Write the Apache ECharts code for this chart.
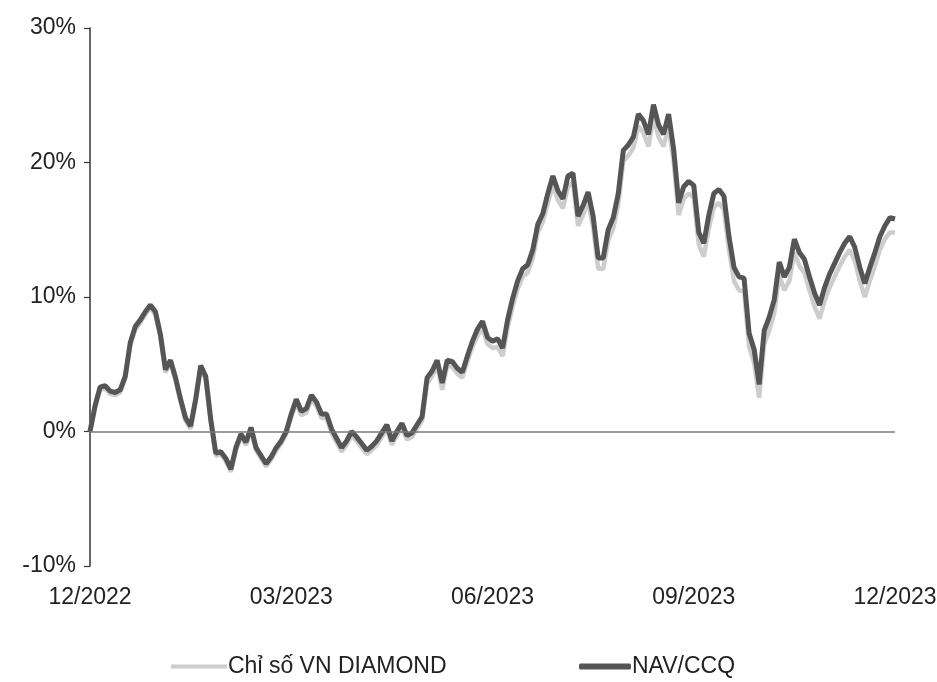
<!DOCTYPE html>
<html>
<head>
<meta charset="utf-8">
<script src="https://cdn.jsdelivr.net/npm/echarts@6/dist/echarts.min.js"></script>
<style>
html,body{margin:0;padding:0;background:#fff;}
#chart{width:937px;height:682px;}
</style>
</head>
<body>
<div id="chart"></div>
<script>
// Tick labels on the x axis (every 40th sample)
const xTickLabels = ['12/2022', '03/2023', '06/2023', '09/2023', '12/2023'];
const yTickValues = [-10, 0, 10, 20, 30];

const seriesNames = ['Chỉ số VN DIAMOND', 'NAV/CCQ'];

// NAV/CCQ performance (%), equally spaced samples Dec 2022 -> Dec 2023
const navValues = [
  0.0, 1.9, 3.3, 3.4, 3.0, 2.9, 3.1, 4.1, 6.6, 7.8,
  8.3, 8.9, 9.4, 8.9, 7.2, 4.6, 5.3, 4.0, 2.4, 1.0,
  0.4, 2.4, 4.9, 4.1, 0.9, -1.6, -1.5, -2.0, -2.8, -1.2,
  -0.2, -0.8, 0.3, -1.2, -1.8, -2.4, -1.9, -1.2, -0.7, 0.0,
  1.3, 2.4, 1.5, 1.7, 2.7, 2.2, 1.3, 1.3, 0.2, -0.5,
  -1.2, -0.7, 0.0, -0.4, -0.9, -1.4, -1.1, -0.7, -0.1, 0.5,
  -0.7, 0.0, 0.6, -0.3, -0.1, 0.5, 1.1, 4.0, 4.5, 5.3,
  3.6, 5.3, 5.2, 4.7, 4.4, 5.6, 6.7, 7.6, 8.2, 7.0,
  6.7, 6.9, 6.2, 8.3, 9.9, 11.2, 12.1, 12.4, 13.5, 15.4,
  16.2, 17.7, 19.0, 17.9, 17.3, 19.0, 19.2, 16.0, 16.8, 17.8,
  16.0, 12.9, 12.9, 15.0, 15.9, 17.7, 20.9, 21.3, 21.9, 23.6,
  23.1, 22.1, 24.3, 22.8, 22.1, 23.6, 21.0, 17.0, 18.2, 18.6,
  18.3, 14.8, 14.0, 16.1, 17.7, 18.0, 17.5, 14.5, 12.2, 11.5,
  11.4, 7.3, 6.1, 3.5, 7.5, 8.5, 9.8, 12.6, 11.5, 12.2,
  14.3, 13.3, 12.8, 11.5, 10.3, 9.4, 10.7, 11.7, 12.5, 13.3,
  14.0, 14.5, 13.7, 12.2, 11.0, 12.2, 13.3, 14.5, 15.3, 15.9,
  15.8
];

// VN DIAMOND index performance (%) (light grey line)
const diamondValues = [
  0.0, 1.8, 3.1, 3.2, 2.8, 2.7, 2.9, 3.9, 6.4, 7.6,
  8.1, 8.7, 9.2, 8.7, 7.0, 4.4, 5.1, 3.8, 2.2, 0.8,
  0.2, 2.2, 4.7, 3.9, 0.7, -1.8, -1.7, -2.2, -3.0, -1.4,
  -0.4, -1.0, 0.1, -1.4, -2.0, -2.6, -2.1, -1.4, -0.9, -0.2,
  1.1, 2.1, 1.2, 1.4, 2.4, 1.9, 1.0, 1.0, -0.1, -0.8,
  -1.5, -1.0, -0.3, -0.7, -1.2, -1.7, -1.4, -1.0, -0.4, 0.2,
  -1.0, -0.3, 0.3, -0.6, -0.4, 0.2, 0.8, 3.6, 4.1, 4.9,
  3.1, 4.9, 4.8, 4.3, 4.0, 5.2, 6.3, 7.1, 7.7, 6.5,
  6.2, 6.3, 5.6, 7.7, 9.3, 10.6, 11.5, 11.8, 12.9, 14.8,
  15.6, 17.0, 18.3, 17.2, 16.6, 18.2, 18.5, 15.3, 16.1, 17.1,
  15.2, 12.1, 12.1, 14.2, 15.1, 16.9, 20.1, 20.5, 21.1, 22.7,
  22.2, 21.2, 23.4, 21.9, 21.2, 22.7, 20.1, 16.1, 17.3, 17.7,
  17.4, 13.9, 13.0, 15.1, 16.7, 17.0, 16.5, 13.5, 11.2, 10.5,
  10.4, 6.3, 5.1, 2.5, 6.5, 7.5, 8.8, 11.6, 10.5, 11.2,
  13.3, 12.3, 11.8, 10.5, 9.3, 8.4, 9.7, 10.7, 11.5, 12.3,
  13.0, 13.5, 12.7, 11.2, 10.0, 11.2, 12.3, 13.5, 14.3, 14.8,
  14.8
];

const labelStep = (navValues.length - 1) / (xTickLabels.length - 1);
const categories = navValues.map((_, i) => (i % labelStep === 0) ? xTickLabels[i / labelStep] : String(i));

const FONT = '"Liberation Sans", Arial, sans-serif';
const FS = 23;
const chart = echarts.init(document.getElementById('chart'));
chart.setOption({
  animation: false,
  backgroundColor: '#ffffff',
  textStyle: { fontFamily: FONT },
  grid: { left: 90, right: 42, top: 28, bottom: 116, containLabel: false, outerBoundsMode: 'none' },
  legend: [
    {
      data: [seriesNames[0]], left: 166, top: 650, icon: 'rect', itemWidth: 56, itemHeight: 4, itemGap: 2,
      textStyle: { fontSize: FS, color: '#222', fontFamily: FONT, padding: [0, 0, 0, -4] }
    },
    {
      data: [seriesNames[1]], left: 574, top: 650, icon: 'roundRect', itemWidth: 52, itemHeight: 6, itemGap: 2,
      textStyle: { fontSize: FS, color: '#222', fontFamily: FONT, padding: [0, 0, 0, -4] }
    }
  ],
  xAxis: {
    type: 'category',
    data: categories,
    boundaryGap: false,
    axisLine: { show: false },
    axisTick: { show: false },
    splitLine: { show: false },
    axisLabel: {
      interval: (idx) => idx % labelStep === 0,
      formatter: (v) => v,
      fontSize: FS, color: '#222', margin: 20, fontFamily: FONT,
      showMinLabel: true, showMaxLabel: true
    }
  },
  yAxis: {
    type: 'value',
    min: yTickValues[0], max: yTickValues[yTickValues.length - 1], interval: 10,
    axisLine: { show: true, lineStyle: { color: '#333', width: 1.5 } },
    axisTick: { show: true, length: 6, lineStyle: { color: '#333', width: 1.2 } },
    splitLine: { show: false },
    axisLabel: { formatter: '{value}%', fontSize: FS, color: '#222', margin: 14, fontFamily: FONT }
  },
  series: [
    {
      name: seriesNames[0], type: 'line', data: diamondValues, showSymbol: false, smooth: false,
      lineStyle: { color: '#cdcdcd', width: 4.5 }, itemStyle: { color: '#cdcdcd' }, z: 2,
      markLine: {
        silent: true, symbol: 'none', label: { show: false },
        lineStyle: { color: '#7a7a7a', width: 1.5, type: 'solid' },
        data: [{ yAxis: 0 }]
      }
    },
    {
      name: seriesNames[1], type: 'line', data: navValues, showSymbol: false, smooth: false,
      lineStyle: { color: '#555555', width: 5 }, itemStyle: { color: '#555555' }, z: 3
    }
  ]
});
</script>
</body>
</html>
